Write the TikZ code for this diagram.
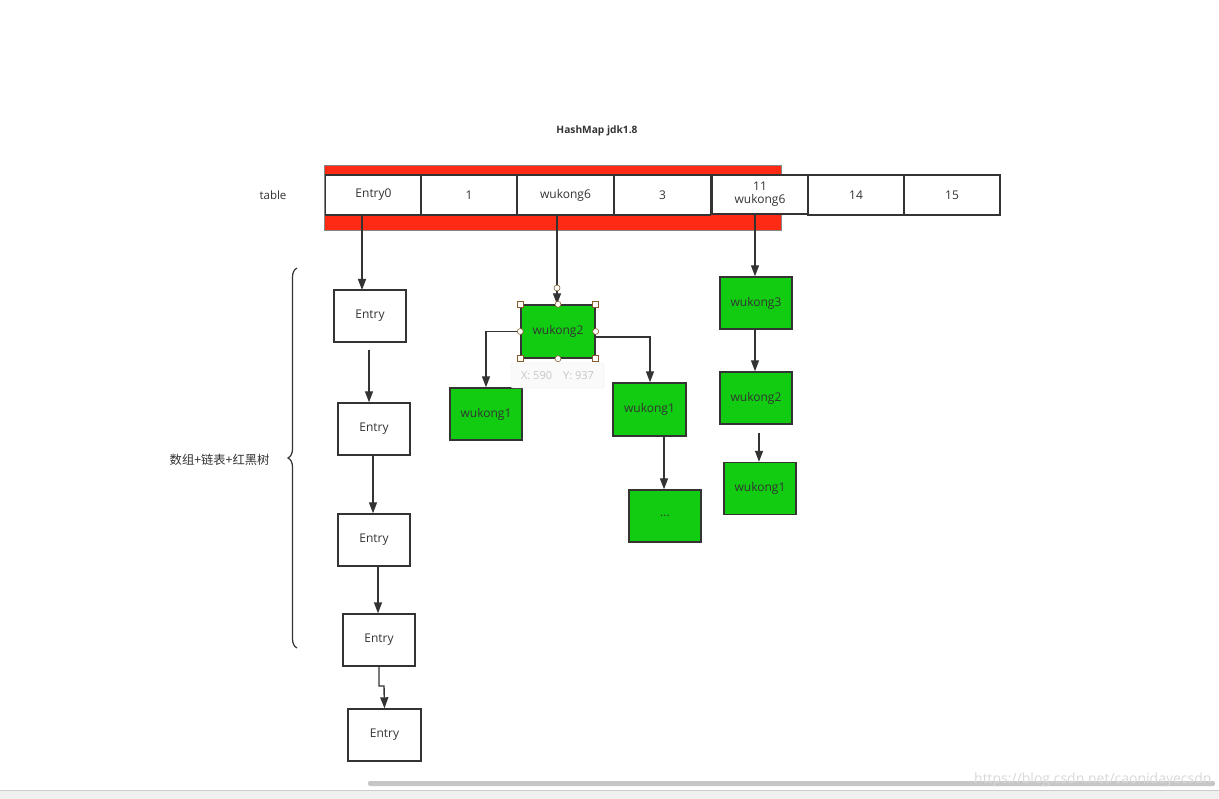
\documentclass[tikz,border=0pt]{standalone}
\usepackage{fontspec}
\setmainfont{Open Sans}
\newfontfamily\cjk{Noto Sans CJK SC}
\usetikzlibrary{arrows.meta,decorations.pathreplacing}
\definecolor{gbox}{HTML}{11CC11}
\definecolor{rbar}{HTML}{FF2A14}
\definecolor{ink}{HTML}{333333}
\tikzset{
  cell/.style={draw=ink, line width=1.3pt, minimum width=96pt, minimum height=40pt, inner sep=0pt, font=\fontsize{12}{14}\selectfont, text=ink},
  wbox/.style={draw=ink, line width=1.4pt, fill=white, minimum width=72pt, minimum height=52pt, inner sep=0pt, font=\fontsize{12}{14}\selectfont, text=ink},
  gnode/.style={wbox, fill=gbox},
  arr/.style={draw=ink, line width=1.4pt, -{Triangle[length=11pt,width=8pt]}},
  handle/.style={circle, draw=brown!70!black, fill=white, inner sep=0pt, minimum size=6pt, line width=0.6pt},
  shandle/.style={rectangle, draw=brown!70!black, fill=white, inner sep=0pt, minimum size=6pt, line width=0.6pt}
}
\begin{document}
\begin{tikzpicture}[x=1pt,y=-1pt]
\useasboundingbox (0,0) rectangle (1219,799);
\fill[white] (0,0) rectangle (1219,799);
% bottom bar and scroll
\fill[gray!12] (0,790) rectangle (1219,799);
\draw[gray!40, line width=0.8pt] (0,790) -- (1219,790);
\fill[gray!45, rounded corners=2pt] (368,781) rectangle (1215,786);
\node[anchor=east, text=gray!30, font=\fontsize{14}{16}\selectfont] (wm) at (1215,780) {https://blog.csdn.net/caonidayecsdn};

\node[font=\bfseries\fontsize{10.2}{12}\selectfont, text=ink] (title) at (597,131) {HashMap jdk1.8};
\node[font=\fontsize{11.5}{13}\selectfont, text=ink] (tlabel) at (273,195) {table};

% red bar
\draw[fill=rbar, draw=ink!60, line width=0.8pt] (324,165) rectangle (781,230);
\node[cell, fill=white] (c0) at (373.5,195) {Entry0};
\node[cell, fill=white] (c1) at (469,195) {1};
\node[cell, fill=white] (c2) at (565.5,195) {wukong6};
\node[cell, fill=white] (c3) at (662.5,195) {3};
\node[cell, fill=white, minimum height=39pt, align=center, font=\fontsize{12}{13}\selectfont] (c4) at (760,194.5) {11\\wukong6};
\node[cell, fill=white] (c5) at (856,195) {14};
\node[cell, fill=white] (c6) at (952,195) {15};

% left chain
\node[wbox] (e1) at (370,316) {Entry};
\node[wbox] (e2) at (374,429) {Entry};
\node[wbox] (e3) at (374,540) {Entry};
\node[wbox] (e4) at (379,640) {Entry};
\node[wbox, minimum width=73pt] (e5) at (384.5,735) {Entry};
\draw[arr] (362,216) -- (362,290);
\draw[arr] (369,350) -- (e2.north -| 369,0);
\draw[arr] (373,455) -- (e3.north -| 373,0);
\draw[arr] (378,567) -- (e4.north -| 378,0);
\draw[arr] (379,666) -- (379,686) -- (384,686) -- (e5.north);

% middle tree
\node[gnode, minimum width=74pt, minimum height=53pt] (w2) at (558,331.5) {wukong2};
\node[gnode] (w1a) at (486,414) {wukong1};
\node[gnode, minimum width=73pt, minimum height=53pt] (w1b) at (649.5,409.5) {wukong1};
\node[gnode] (dots) at (665,516) {...};
\draw[arr] (c2.south -| 557,0) -- (w2.north -| 557,0);
\draw[arr] (w2.west) -- (w1a.north |- w2.west) -- (w1a.north);
\draw[arr] (w2.east |- 0,337) -- (650,337) -- (w1b.north -| 650,0);
\draw[arr] (w1b.south -| 664,0) -- (dots.north -| 664,0);
% selection handles
\node[handle] (hA) at (557,288) {};
\foreach \p/\n in {(w2.north west)/h1,(w2.north east)/h2,(w2.south west)/h3,(w2.south east)/h4}{\node[shandle] (\n) at \p {};}
\foreach \p/\n in {(w2.north)/h5,(w2.south)/h6,(w2.west)/h7,(w2.east)/h8}{\node[handle] (\n) at \p {};}
\node[draw=gray!15, fill=gray!4, rounded corners=2pt, minimum width=93pt, minimum height=25pt, text=gray!45, font=\fontsize{11}{13}\selectfont] (tip) at (557.5,375.5) {X: 590\quad Y: 937};

% right column
\node[gnode] (w3) at (756,303) {wukong3};
\node[gnode] (w2r) at (756,398) {wukong2};
\node[gnode] (w1r) at (760,488.5) {wukong1};
\draw[arr] (c4.south -| 755,0) -- (w3.north -| 755,0);
\draw[arr] (w3.south -| 755,0) -- (w2r.north -| 755,0);
\draw[arr] (759,433) -- (w1r.north -| 759,0);

% brace
\draw[ink, line width=1.2pt, decorate, decoration={brace, amplitude=9pt}] (297,648) -- (297,268) coordinate[midway] (bm);
\node[anchor=east, font=\cjk\fontsize{12.3}{14}\selectfont, text=ink] (blabel) at (273,460) {数组+链表+红黑树};
\end{tikzpicture}
\end{document}
